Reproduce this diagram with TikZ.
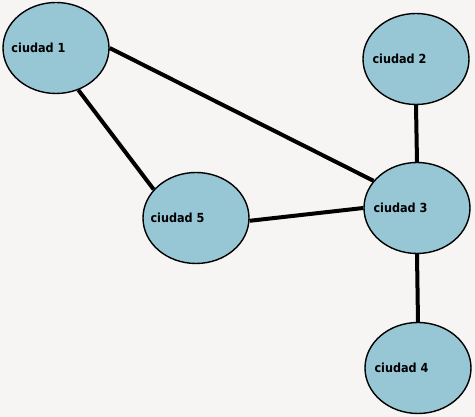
\documentclass[tikz,border=0pt]{standalone}
\usepackage{fontspec}
\newfontfamily\citysans{DejaVu Sans Condensed}
\usepackage{tikz}
\usetikzlibrary{shapes.geometric}
\usetikzlibrary{positioning}

\definecolor{paper}{HTML}{F6F5F3}
\definecolor{cityblue}{HTML}{97C6D5}

\tikzset{
	city/.style={ellipse, draw=black, line width=1.4pt, fill=cityblue, minimum width=106pt, minimum height=91pt, inner sep=0pt},
	cityname/.style={inner sep=0pt, font=\citysans\bfseries\fontsize{12.5}{14}\selectfont},
	road/.style={line width=4pt}
}

\begin{document}
\begin{tikzpicture}[x=1pt, y=1pt]
			\fill[paper] (0, 0) rectangle (475, 417);
			\useasboundingbox (0, 0) rectangle (475, 417);
			% the five cities
			\node[city] (c1) at (56, 369) {};
			\node[city] (c2) at (416, 358) {};
			\node[city] (c3) at (417, 209) {};
			\node[city] (c4) at (418, 49) {};
			\node[city] (c5) at (196, 199) {};
			% roads between them
			\begin{scope}[road]
				\draw (c1.east) -- (c3.148);
				\draw (c1.-62) -- (c5.146);
				\draw (c5.-3) -- (c3.west);
				\draw (c2.south) -- (c3.north);
				\draw (c3.south) -- (c4.north);
			\end{scope}
			\node[cityname, right=9pt of c1.west] (n1) {ciudad 1};
			\node[cityname, right=10pt of c2.west] (n2) {ciudad 2};
			\node[cityname, right=10pt of c3.west] (n3) {ciudad 3};
			\node[cityname, right=10pt of c4.west] (n4) {ciudad 4};
			\node[cityname, right=8pt of c5.west] (n5) {ciudad 5};
		\end{tikzpicture}
\end{document}
